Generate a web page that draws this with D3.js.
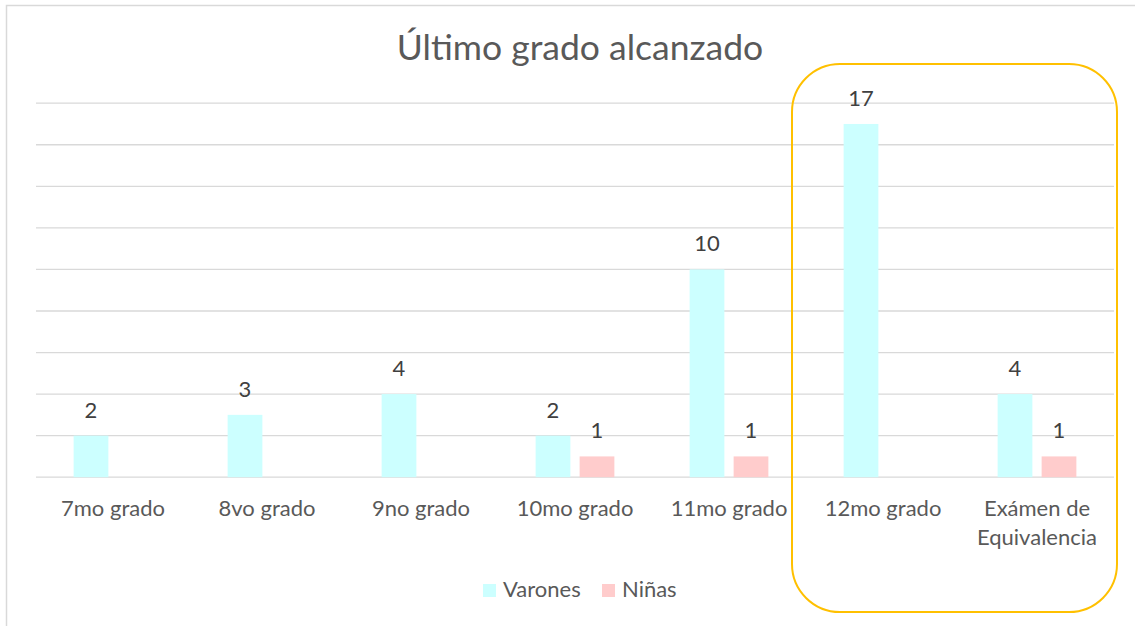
<!DOCTYPE html>
<meta charset='utf-8'>
<html>
<head>
    <script src="https://d3js.org/d3.v7.min.js" charset="utf-8"></script>
    <style>
        body { margin: 0; background: #fff; }
        svg text { font-family: Lato, "Open Sans", sans-serif; }
    </style>
</head>
<body>
    <div id="chart-container"></div>
    <script>
        // data
        const categories = ['7mo grado', '8vo grado', '9no grado', '10mo grado', '11mo grado', '12mo grado', 'Exámen de Equivalencia'];
        const series = ['Varones', 'Niñas'];
        const varones = [2, 3, 4, 2, 10, 17, 4];
        const ninas = [0, 0, 0, 1, 1, 0, 1];
        const yTicks = [0, 2, 4, 6, 8, 10, 12, 14, 16, 18];
        const colors = {'Varones': '#ccffff', 'Niñas': '#ffcccc'};

        const svgWidth = 1135;
        const svgHeight = 626;
        const margin = {top: 103, left: 36, bottom: 149, right: 21};
        const labelSize = '22px';

        const svg = d3.select('#chart-container')
            .append('svg')
            .attr('width', svgWidth)
            .attr('height', svgHeight);

        // outer frame of the chart area
        svg.append('rect')
            .attr('x', 6.5).attr('y', 5.5)
            .attr('width', svgWidth + 10).attr('height', svgHeight + 10)
            .attr('fill', 'none')
            .attr('stroke', '#d9d9d9')
            .attr('stroke-width', 1.5);

        // title
        svg.append('text')
            .attr('x', 580).attr('y', 60)
            .attr('text-anchor', 'middle')
            .attr('fill', '#595959')
            .style('font-size', '35.5px')
            .text('Último grado alcanzado');

        const xScale = d3.scaleBand()
            .domain(categories)
            .range([margin.left, svgWidth - margin.right]);

        const xInner = d3.scaleBand()
            .domain(series)
            .range([0, xScale.bandwidth()])
            .paddingInner(0.21)
            .paddingOuter(0.855);

        const yScale = d3.scaleLinear()
            .domain([0, 18])
            .range([svgHeight - margin.bottom + 0.2, margin.top + 0.2]);

        // gridlines (including the baseline)
        svg.append('g')
            .selectAll('line')
            .data(yTicks)
            .enter().append('line')
            .attr('x1', margin.left)
            .attr('x2', svgWidth - margin.right)
            .attr('y1', d => yScale(d))
            .attr('y2', d => yScale(d))
            .attr('stroke', '#d9d9d9')
            .attr('stroke-width', 1.3);

        // bars, one group per category
        const rows = categories.map((c, i) => ({cat: c, values: [
            {key: 'Varones', value: varones[i]},
            {key: 'Niñas', value: ninas[i]}
        ]}));

        const groups = svg.append('g')
            .selectAll('g')
            .data(rows)
            .enter().append('g')
            .attr('transform', d => 'translate(' + xScale(d.cat) + ',0)');

        const cells = groups.selectAll('g')
            .data(d => d.values.filter(v => v.value > 0))
            .enter().append('g');

        cells.append('rect')
            .attr('x', d => xInner(d.key))
            .attr('width', xInner.bandwidth())
            .attr('y', d => yScale(d.value))
            .attr('height', d => yScale(0) - yScale(d.value))
            .attr('fill', d => colors[d.key]);

        cells.append('text')
            .attr('x', d => xInner(d.key) + xInner.bandwidth() / 2)
            .attr('y', d => yScale(d.value) - 18)
            .attr('text-anchor', 'middle')
            .attr('fill', '#404040')
            .style('font-size', labelSize)
            .text(d => d.value);

        // category labels, wrapped when too wide
        const xAxis = svg.append('g')
            .attr('transform', 'translate(0,' + yScale(0) + ')')
            .call(d3.axisBottom(xScale).tickSize(0).tickPadding(0));
        xAxis.select('.domain').remove();
        xAxis.selectAll('text')
            .attr('fill', '#595959')
            .style('font-size', labelSize)
            .style('font-family', 'Lato, "Open Sans", sans-serif')
            .attr('y', 39)
            .attr('dy', 0)
            .each(function(d) {
                const t = d3.select(this);
                if (this.getComputedTextLength() <= 145) return;
                const words = d.split(' ');
                const first = words.slice(0, 2).join(' ');
                const rest = words.slice(2).join(' ');
                t.text(null);
                t.append('tspan').attr('x', 0).attr('y', 39).text(first);
                t.append('tspan').attr('x', 0).attr('y', 68).text(rest);
            });

        // highlight around the last two categories
        const hx0 = xScale(categories[5]) - 14;
        const hx1 = xScale(categories[6]) + xScale.bandwidth() + 3;
        svg.append('rect')
            .attr('x', hx0).attr('y', 64)
            .attr('width', hx1 - hx0).attr('height', 548)
            .attr('rx', 48).attr('ry', 48)
            .attr('fill', 'none')
            .attr('stroke', '#ffc000')
            .attr('stroke-width', 2);

        // legend
        const legend = svg.append('g')
            .attr('transform', 'translate(483,584)');
        const legendX = [0, 119];
        const items = legend.selectAll('g')
            .data(series)
            .enter().append('g')
            .attr('transform', (d, i) => 'translate(' + legendX[i] + ',0)');
        items.append('rect')
            .attr('width', 13).attr('height', 13)
            .attr('fill', d => colors[d]);
        items.append('text')
            .attr('x', 20).attr('y', 13)
            .attr('fill', '#595959')
            .style('font-size', labelSize)
            .text(d => d);
    </script>
</body>
</html>
